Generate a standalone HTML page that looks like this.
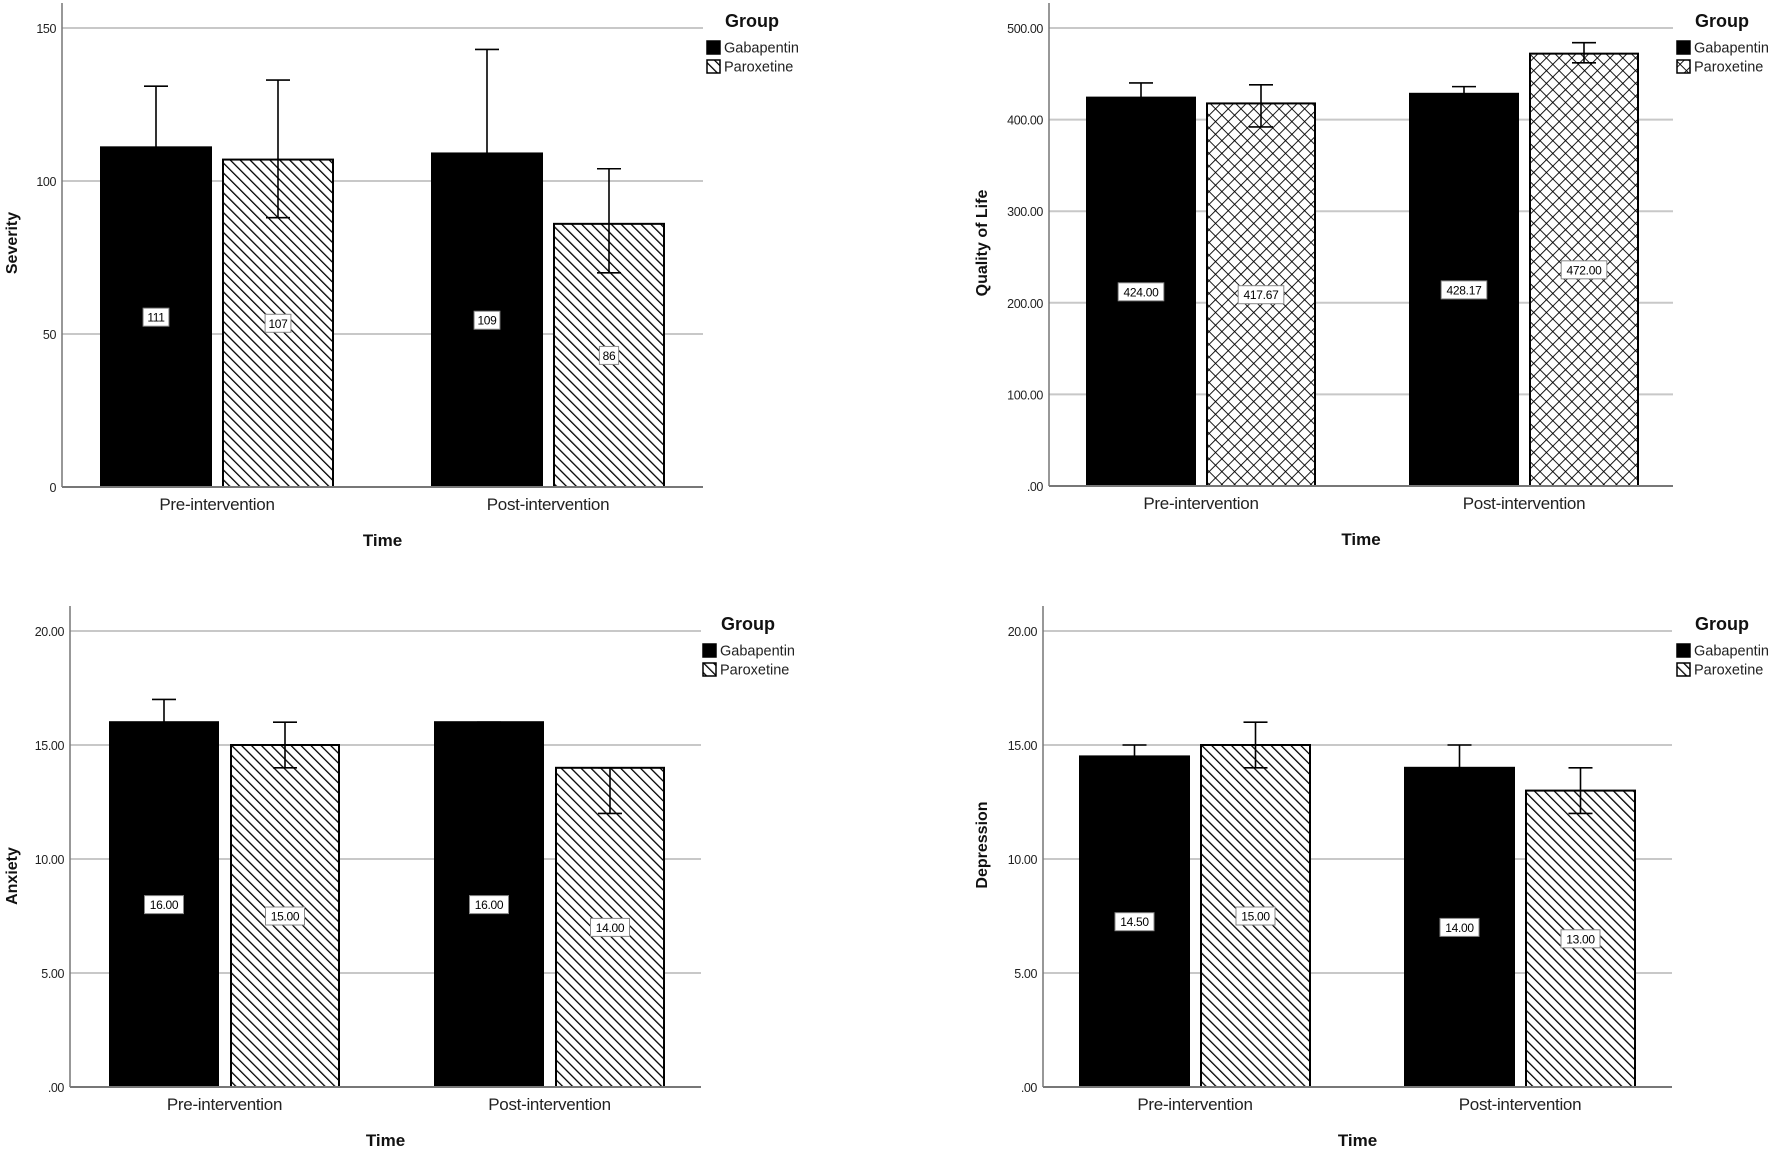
<!DOCTYPE html>
<html><head><meta charset="utf-8"><style>
html,body{margin:0;padding:0;background:#fff;}
svg{display:block;}
text{font-family:"Liberation Sans",Arial,sans-serif;}
</style></head><body>
<svg id="fig" width="1772" height="1151" viewBox="0 0 1772 1151" xmlns="http://www.w3.org/2000/svg">
<defs>
<pattern id="diag" patternUnits="userSpaceOnUse" width="7" height="7" patternTransform="rotate(-45)">
<rect width="7" height="7" fill="#fff"/><line x1="0" y1="0" x2="0" y2="7" stroke="#000" stroke-width="2.6"/>
</pattern>
<pattern id="cross" patternUnits="userSpaceOnUse" width="9" height="9" patternTransform="rotate(45)">
<rect width="9" height="9" fill="#fff"/><line x1="0" y1="0" x2="0" y2="9" stroke="#000" stroke-width="1.8"/><line x1="0" y1="0" x2="9" y2="0" stroke="#000" stroke-width="1.8"/>
</pattern>
</defs>
</svg>
<script>
// ---- data ----
const categories = ["Pre-intervention", "Post-intervention"];
const groups = ["Gabapentin", "Paroxetine"];

const severityGab = [111, 109];
const severityPar = [107, 86];
const severityGabHi = [131, 143];
const severityGabLo = [91, 75];
const severityParHi = [133, 104];
const severityParLo = [88, 70];
const severityTicks = [0, 50, 100, 150];
const severityTickLabels = ["0", "50", "100", "150"];
const severityLabelsGab = ["111", "109"];
const severityLabelsPar = ["107", "86"];

const qolGab = [424.00, 428.17];
const qolPar = [417.67, 472.00];
const qolGabHi = [440, 436];
const qolGabLo = [408, 420];
const qolParHi = [438, 484];
const qolParLo = [392, 462];
const qolTicks = [0, 100, 200, 300, 400, 500];
const qolTickLabels = [".00", "100.00", "200.00", "300.00", "400.00", "500.00"];
const qolLabelsGab = ["424.00", "428.17"];
const qolLabelsPar = ["417.67", "472.00"];

const anxietyGab = [16, 16];
const anxietyPar = [15, 14];
const anxietyGabHi = [17, 16];
const anxietyGabLo = [15, 16];
const anxietyParHi = [16, 14];
const anxietyParLo = [14, 12];
const anxietyTicks = [0, 5, 10, 15, 20];
const anxietyTickLabels = [".00", "5.00", "10.00", "15.00", "20.00"];
const anxietyLabelsGab = ["16.00", "16.00"];
const anxietyLabelsPar = ["15.00", "14.00"];

const depressionGab = [14.5, 14];
const depressionPar = [15, 13];
const depressionGabHi = [15, 15];
const depressionGabLo = [14, 13];
const depressionParHi = [16, 14];
const depressionParLo = [14, 12];
const depressionTicks = [0, 5, 10, 15, 20];
const depressionTickLabels = [".00", "5.00", "10.00", "15.00", "20.00"];
const depressionLabelsGab = ["14.50", "14.00"];
const depressionLabelsPar = ["15.00", "13.00"];

const NS = "http://www.w3.org/2000/svg";
const svg = document.getElementById("fig");
function mk(tag, attrs, parent, txt){
  const e = document.createElementNS(NS, tag);
  for (const k in attrs) e.setAttribute(k, attrs[k]);
  if (txt !== undefined) e.textContent = txt;
  parent.appendChild(e);
  return e;
}

function drawChart(c){
  const g = mk("g", {}, svg);
  
  
  const y = v => c.bottom - (v - 0) / c.max * (c.bottom - c.top);
  c.ticks.forEach((t, i) => {
    if (t !== 0) {
      const gl = mk("line", {x1: c.axisX, x2: c.right, y1: y(t), y2: y(t), stroke: "#c8c8c8", "stroke-width": 2}, g);
      
      
    }
    const tl = mk("text", {x: c.axisX - 6, y: y(t) + 5, "text-anchor": "end", "font-size": 12.5, fill: "#222", "letter-spacing": "-0.4"}, g, c.tickLabels[i]);
    
    
  });
  const ya = mk("line", {x1: c.axisX, x2: c.axisX, y1: c.axisTop, y2: c.bottom, stroke: "#777", "stroke-width": 1.5}, g);
  
  
  const sets = [
    {vals: c.gab, hi: c.gabHi, lo: c.gabLo, labels: c.labGab, fill: "#000", name: "gabapentin"},
    {vals: c.par, hi: c.parHi, lo: c.parLo, labels: c.labPar, fill: c.pattern, name: "paroxetine"}
  ];
  categories.forEach((cat, ci) => {
    sets.forEach((s, si) => {
      const x0 = c.groupX[ci] + si * (c.barW + c.gap);
      const top = y(s.vals[ci]);
      const r = mk("rect", {x: x0, y: top, width: c.barW, height: c.bottom - top, fill: s.fill, stroke: "#000", "stroke-width": 2}, g);
      
      
      const cx = x0 + c.barW / 2;
      const eb = mk("path", {d: `M${cx - 12},${y(s.hi[ci])}H${cx + 12}M${cx},${y(s.hi[ci])}V${y(s.lo[ci])}M${cx - 12},${y(s.lo[ci])}H${cx + 12}`, stroke: "#000", "stroke-width": 1.6, fill: "none"}, g);
      
      
      const my = (top + c.bottom) / 2;
      const lw = s.labels[ci].length * 6.6 + 6;
      const lb = mk("rect", {x: cx - lw / 2, y: my - 9, width: lw, height: 18, fill: "#fff", stroke: "#888", "stroke-width": 1}, g);
      
      
      const lt = mk("text", {x: cx, y: my + 4.5, "text-anchor": "middle", "font-size": 12, fill: "#000", "letter-spacing": "-0.3"}, g, s.labels[ci]);
      
      
    });
    const cl = mk("text", {x: c.groupX[ci] + c.barW + c.gap / 2, y: c.catY, "text-anchor": "middle", "font-size": 17, fill: "#222", "letter-spacing": "-0.3"}, g, cat);
    
    
  });
  const xa = mk("line", {x1: c.axisX, x2: c.right, y1: c.bottom, y2: c.bottom, stroke: "#777", "stroke-width": 2}, g);
  
  
  const xt = mk("text", {x: (c.axisX + c.right) / 2, y: c.catY + 36, "text-anchor": "middle", "font-size": 17, "font-weight": "bold", fill: "#111"}, g, "Time");
  
  
  const yt = mk("text", {x: 0, y: 0, transform: `translate(${c.yTitleX},${c.yTitleY}) rotate(-90)`, "text-anchor": "middle", "font-size": 16, "font-weight": "bold", fill: "#111"}, g, c.yTitle);
  
  
  const lg = mk("g", {}, g);
  
  
  const gt = mk("text", {x: c.legX + 19, y: c.legY, "font-size": 18, "font-weight": "bold", fill: "#111"}, lg, "Group");
  
  
  groups.forEach((gn, i) => {
    const ey = c.legY + 20 + i * 19;
    const sw = mk("rect", {x: c.legX + 1, y: ey - 6, width: 13, height: 13, fill: i === 0 ? "#000" : c.pattern, stroke: "#000", "stroke-width": 1.5}, lg);
    
    
    const et = mk("text", {x: c.legX + 18, y: ey + 5.5, "font-size": 14.5, fill: "#222"}, lg, gn);
    
    
  });
}

drawChart({name: "severity", axisX: 62, right: 703, top: 28, bottom: 487, axisTop: 3, max: 150,
  ticks: severityTicks, tickLabels: severityTickLabels,
  gab: severityGab, par: severityPar, gabHi: severityGabHi, gabLo: severityGabLo, parHi: severityParHi, parLo: severityParLo,
  labGab: severityLabelsGab, labPar: severityLabelsPar,
  groupX: [101, 432], barW: 110, gap: 12, pattern: "url(#diag)",
  catY: 510, yTitle: "Severity", yTitleX: 17, yTitleY: 243, legX: 706, legY: 27});

drawChart({name: "quality-of-life", axisX: 1049, right: 1673, top: 28, bottom: 486, axisTop: 3, max: 500,
  ticks: qolTicks, tickLabels: qolTickLabels,
  gab: qolGab, par: qolPar, gabHi: qolGabHi, gabLo: qolGabLo, parHi: qolParHi, parLo: qolParLo,
  labGab: qolLabelsGab, labPar: qolLabelsPar,
  groupX: [1087, 1410], barW: 108, gap: 12, pattern: "url(#cross)",
  catY: 509, yTitle: "Quality of Life", yTitleX: 987, yTitleY: 243, legX: 1676, legY: 27});

drawChart({name: "anxiety", axisX: 70, right: 701, top: 631, bottom: 1087, axisTop: 606, max: 20,
  ticks: anxietyTicks, tickLabels: anxietyTickLabels,
  gab: anxietyGab, par: anxietyPar, gabHi: anxietyGabHi, gabLo: anxietyGabLo, parHi: anxietyParHi, parLo: anxietyParLo,
  labGab: anxietyLabelsGab, labPar: anxietyLabelsPar,
  groupX: [110, 435], barW: 108, gap: 13, pattern: "url(#diag)",
  catY: 1110, yTitle: "Anxiety", yTitleX: 17, yTitleY: 876, legX: 702, legY: 630});

drawChart({name: "depression", axisX: 1043, right: 1672, top: 631, bottom: 1087, axisTop: 606, max: 20,
  ticks: depressionTicks, tickLabels: depressionTickLabels,
  gab: depressionGab, par: depressionPar, gabHi: depressionGabHi, gabLo: depressionGabLo, parHi: depressionParHi, parLo: depressionParLo,
  labGab: depressionLabelsGab, labPar: depressionLabelsPar,
  groupX: [1080, 1405], barW: 109, gap: 12, pattern: "url(#diag)",
  catY: 1110, yTitle: "Depression", yTitleX: 987, yTitleY: 845, legX: 1676, legY: 630});
</script>
</body></html>
